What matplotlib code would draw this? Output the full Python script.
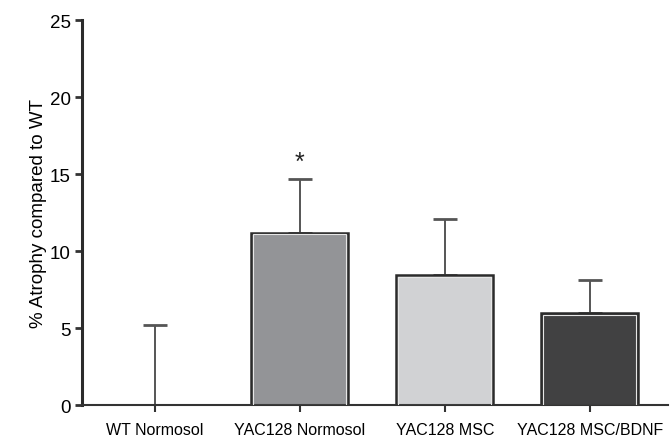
import numpy as np
import matplotlib.pyplot as plt

plt.rcParams['font.family'] = ['Liberation Sans', 'DejaVu Sans']

# Groups and measured atrophy (mean, upper SEM)
groups = ["WT Normosol", "YAC128 Normosol", "YAC128 MSC", "YAC128 MSC/BDNF"]
atrophy = [0.0, 11.2, 8.45, 6.0]
sem = [5.2, 3.5, 3.65, 2.1]
bar_colors = ["#ffffff", "#939497", "#d1d2d4", "#414142"]
significant = [False, True, False, False]

fig = plt.figure(figsize=(6.72, 4.39), dpi=100)
ax = fig.add_axes([0.122, 0.075, 0.872, 0.877])

x = np.arange(len(groups))
width = 0.67

for i in range(len(groups)):
    if atrophy[i] > 0:
        # outer dark border
        ax.bar(x[i], atrophy[i], width=width, color=bar_colors[i],
               edgecolor="#2b2b2b", linewidth=1.8, zorder=2)
        # thin light inset line inside the border
        ax.bar(x[i], atrophy[i] - 0.12, width=width - 0.03, bottom=0.0,
               color="none", edgecolor="#e6e6e6", linewidth=0.8, zorder=3)
    ax.errorbar(x[i], atrophy[i], yerr=[[0], [sem[i]]], fmt="none",
                ecolor="#555555", elinewidth=1.4, capsize=8.5, capthick=2.0,
                zorder=1)
    if significant[i]:
        ax.text(x[i], atrophy[i] + sem[i] + 0.3, "*", ha="center",
                va="bottom", fontsize=18, color="#222222")

ax.set_xlim(-0.503, 3.54)
ax.set_ylim(0, 25)
ax.set_yticks([0, 5, 10, 15, 20, 25])
ax.set_xticks(x)
ax.set_xticklabels(groups, fontsize=11.5)
ax.tick_params(axis="y", labelsize=13.5, length=5, width=2, color="#333333",
               pad=3)
ax.tick_params(axis="x", length=5, width=1.5, color="#333333", pad=7)
ax.set_ylabel("% Atrophy compared to WT", fontsize=13.5, labelpad=2)

for side in ["top", "right"]:
    ax.spines[side].set_visible(False)
ax.spines["left"].set_linewidth(2.2)
ax.spines["left"].set_color("#2b2b2b")
ax.spines["bottom"].set_linewidth(1.5)
ax.spines["bottom"].set_color("#333333")

fig.savefig("out.png", dpi=100)
